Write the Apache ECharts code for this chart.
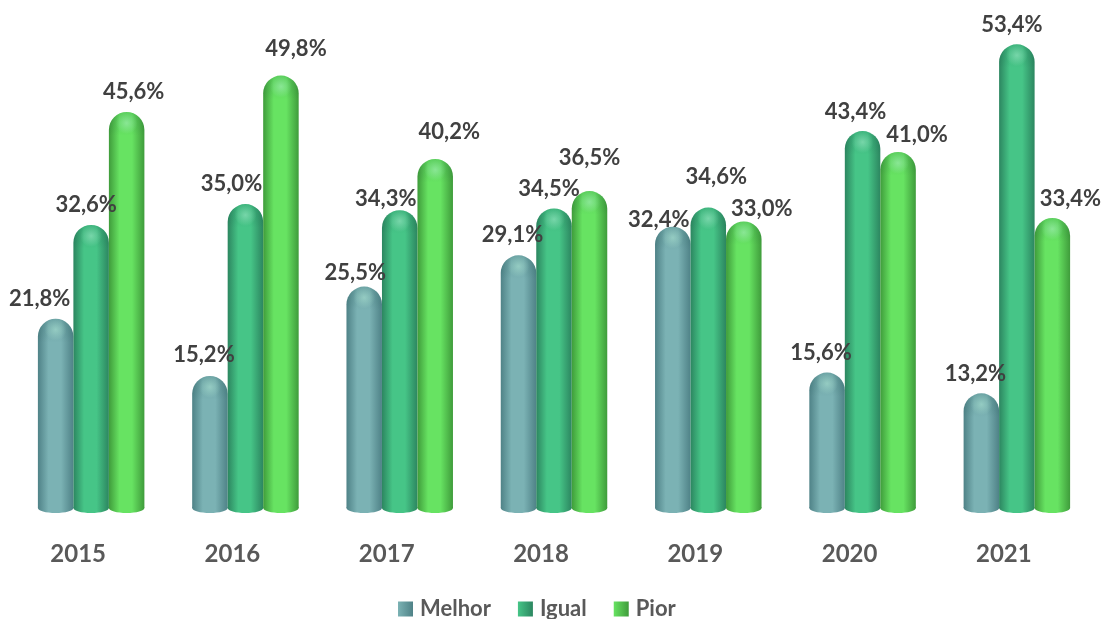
<!DOCTYPE html>
<html>
<head>
<meta charset="utf-8">
<style>
html, body { margin: 0; padding: 0; background: #fff; }
#chart { width: 1102px; height: 619px; }
</style>
<script src="https://cdn.jsdelivr.net/npm/echarts@6/dist/echarts.min.js"></script>
</head>
<body>
<div id="chart"></div>
<script>
var years = ['2015', '2016', '2017', '2018', '2019', '2020', '2021'];
var seriesNames = ['Melhor', 'Igual', 'Pior'];
var melhor = [21.8, 15.2, 25.5, 29.1, 32.4, 15.6, 13.2];
var igual = [32.6, 35.0, 34.3, 34.5, 34.6, 43.4, 53.4];
var pior = [45.6, 49.8, 40.2, 36.5, 33.0, 41.0, 33.4];

// hand placed labels, px from the top centre of each bar
var labelShiftX = [
	[-16, -6, -9, -6, -14, -6, -6],
	[-5, -14, -14, -5, 8, -7, -5],
	[7, 15, 14, 0, 18, 19, 18]
];
var labelShiftY = [
	[-20, -21, -14, -20, -7, -20, -19],
	[-20, -20, -11, -20, -31, -19, -19],
	[-20, -27, -27, -33, -13, -17, -19]
];

var barWidth = 35.5;
var edgeColors = ['#4f8287', '#2c8660', '#3f9c3b'];
var midColors = ['#7bb2b4', '#46c587', '#67e362'];

function barGradient(s) {
	return new echarts.graphic.LinearGradient(0, 0, 1, 0, [
		{ offset: 0, color: edgeColors[s] },
		{ offset: 0.3, color: midColors[s] },
		{ offset: 0.65, color: midColors[s] },
		{ offset: 1, color: edgeColors[s] }
	]);
}

function renderBar(s) {
	return function (params, api) {
		var i = api.value(0);
		var value = api.value(1);
		var top = api.coord([i, value]);
		var base = api.coord([i, 0]);
		var x = top[0] + (s - 1) * barWidth;
		var r = barWidth / 2;
		var fill = barGradient(s);
		return {
			type: 'group',
			children: [{
				type: 'ellipse',
				shape: { cx: x, cy: base[1], rx: r, ry: 5 },
				style: { fill: fill }
			}, {
				type: 'rect',
				shape: { x: x - r, y: top[1], width: barWidth, height: base[1] - top[1], r: [r, r, 0, 0] },
				style: { fill: fill }
			}, {
				// darker rim of the rounded cap
				type: 'rect',
				shape: { x: x - r, y: top[1], width: barWidth, height: r + 6, r: [r, r, 0, 0] },
				style: {
					fill: new echarts.graphic.LinearGradient(0, 0, 0, 1, [
						{ offset: 0, color: 'rgba(0,60,50,0.12)' },
						{ offset: 0.7, color: 'rgba(0,60,50,0.05)' },
						{ offset: 1, color: 'rgba(0,60,50,0)' }
					])
				}
			}, {
				// highlight on the cap
				type: 'circle',
				shape: { cx: x, cy: top[1] + 11, r: 11 },
				style: {
					fill: new echarts.graphic.RadialGradient(0.5, 0.5, 0.5, [
						{ offset: 0, color: 'rgba(200,255,230,0.4)' },
						{ offset: 1, color: 'rgba(200,255,230,0)' }
					])
				}
			}, {
				type: 'text',
				z2: 100,
				style: {
					text: value.toFixed(1).replace('.', ',') + '%',
					x: x + labelShiftX[s][i],
					y: top[1] + labelShiftY[s][i],
					align: 'center',
					verticalAlign: 'middle',
					font: 'bold 22px Lato',
					fill: '#404040'
				}
			}]
		};
	};
}

function makeSeries(name, values, s) {
	return {
		name: name,
		type: 'custom',
		renderItem: renderBar(s),
		encode: { x: 0, y: 1 },
		itemStyle: { color: midColors[s] },
		data: values.map(function (v, i) { return [i, v]; })
	};
}

var chart = echarts.init(document.getElementById('chart'));
chart.setOption({
	animation: false,
	backgroundColor: '#fff',
	grid: { left: 14, right: 8, top: 0, bottom: 111 },
	legend: {
		left: 393,
		top: 593,
		itemWidth: 15,
		itemHeight: 15,
		itemGap: 27,
		icon: 'rect',
		textStyle: { fontFamily: 'Lato', fontWeight: 'bold', fontSize: 22, color: '#595959', padding: [0, 0, 0, 2] },
		data: seriesNames.map(function (name, s) {
			return {
				name: name,
				itemStyle: {
					color: new echarts.graphic.LinearGradient(0, 0, 1, 0, [
						{ offset: 0, color: midColors[s] },
						{ offset: 1, color: edgeColors[s] }
					])
				}
			};
		})
	},
	xAxis: {
		type: 'category',
		data: years,
		axisLine: { show: false },
		axisTick: { show: false },
		axisLabel: { margin: 34, padding: [0, 26, 0, 0], fontFamily: 'Lato', fontWeight: 'bold', fontSize: 24, color: '#595959' }
	},
	yAxis: {
		type: 'value',
		min: 0,
		max: 58.5,
		show: false
	},
	series: [
		makeSeries(seriesNames[0], melhor, 0),
		makeSeries(seriesNames[1], igual, 1),
		makeSeries(seriesNames[2], pior, 2)
	]
});
</script>
</body>
</html>
